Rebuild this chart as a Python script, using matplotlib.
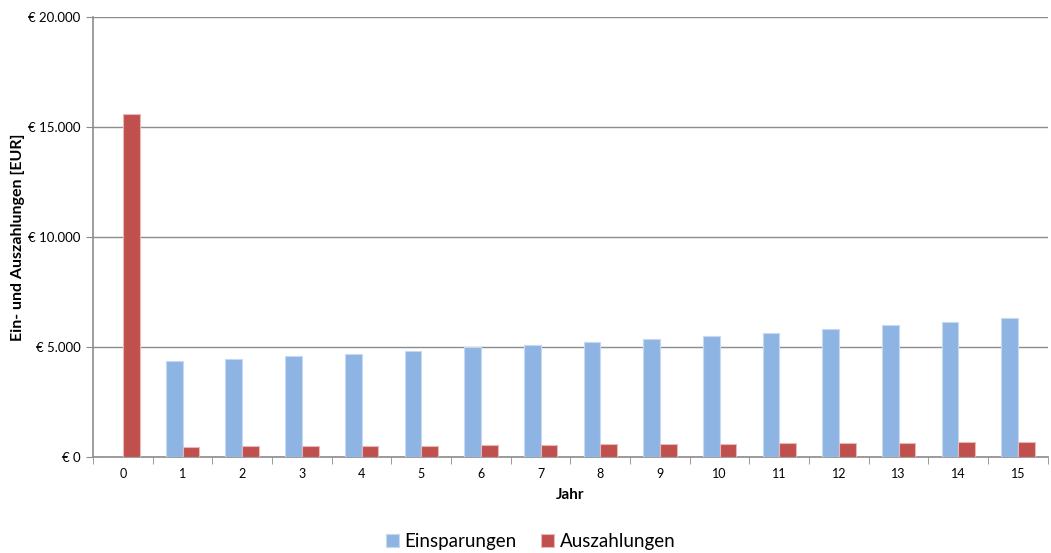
import matplotlib.pyplot as plt
import numpy as np
from matplotlib.ticker import FuncFormatter

plt.rcParams['font.family'] = ['Lato', 'DejaVu Sans']

jahre = list(range(16))
einsparungen = [0, 4350, 4440, 4590, 4680, 4820, 4990, 5080, 5210, 5350,
                5500, 5640, 5830, 5990, 6120, 6320]
auszahlungen = [15580, 440, 490, 490, 490, 490, 530, 530, 590, 590,
                590, 640, 640, 640, 680, 680]

fig = plt.figure(figsize=(10.51, 5.53), dpi=100)
ax = fig.add_axes([0.0885, 0.1736, 0.9085, 0.7954])

x = np.arange(len(jahre))
w = 0.28
ax.bar(x - w / 2, einsparungen, w, color='#8EB4E3', edgecolor='#C6D9F1',
       linewidth=0.8, label='Einsparungen', zorder=3)
ax.bar(x + w / 2, auszahlungen, w, color='#C0504D', edgecolor='#E6B9B8',
       linewidth=0.8, label='Auszahlungen', zorder=3)

ax.set_xlim(-0.5, len(jahre) - 0.5)
ax.set_ylim(0, 20000)
ax.set_yticks(range(0, 20001, 5000))
ax.yaxis.set_major_formatter(FuncFormatter(
    lambda v, p: '€ ' + f'{int(v):,}'.replace(',', '.')))
ax.yaxis.grid(True, color='#8C8C8C', linewidth=1, zorder=0)

ax.set_xticks(x)
ax.set_xticklabels([str(j) for j in jahre])
ax.set_xticks(np.arange(-0.5, len(jahre), 1), minor=True)
ax.tick_params(axis='x', which='major', length=0, pad=8, labelsize=9)
ax.tick_params(axis='x', which='minor', length=5, color='#8C8C8C')
ax.tick_params(axis='y', length=5, color='#8C8C8C', labelsize=9.5, pad=4)

for s in ['top', 'right']:
    ax.spines[s].set_visible(False)
for s in ['left', 'bottom']:
    ax.spines[s].set_color('#8C8C8C')
    ax.spines[s].set_linewidth(1.2)

ax.set_xlabel('Jahr', fontweight='bold', fontsize=11, labelpad=6)
ax.set_ylabel('Ein- und Auszahlungen [EUR]', fontweight='bold', fontsize=11.5)
ax.yaxis.set_label_coords(-0.071, 0.5)

fig.legend(loc='lower center', ncol=2, frameon=False, fontsize=13.5,
           bbox_to_anchor=(0.505, -0.025), handlelength=0.7, handleheight=0.7,
           handletextpad=0.3, columnspacing=1.3)

fig.savefig('out.png', dpi=100)
